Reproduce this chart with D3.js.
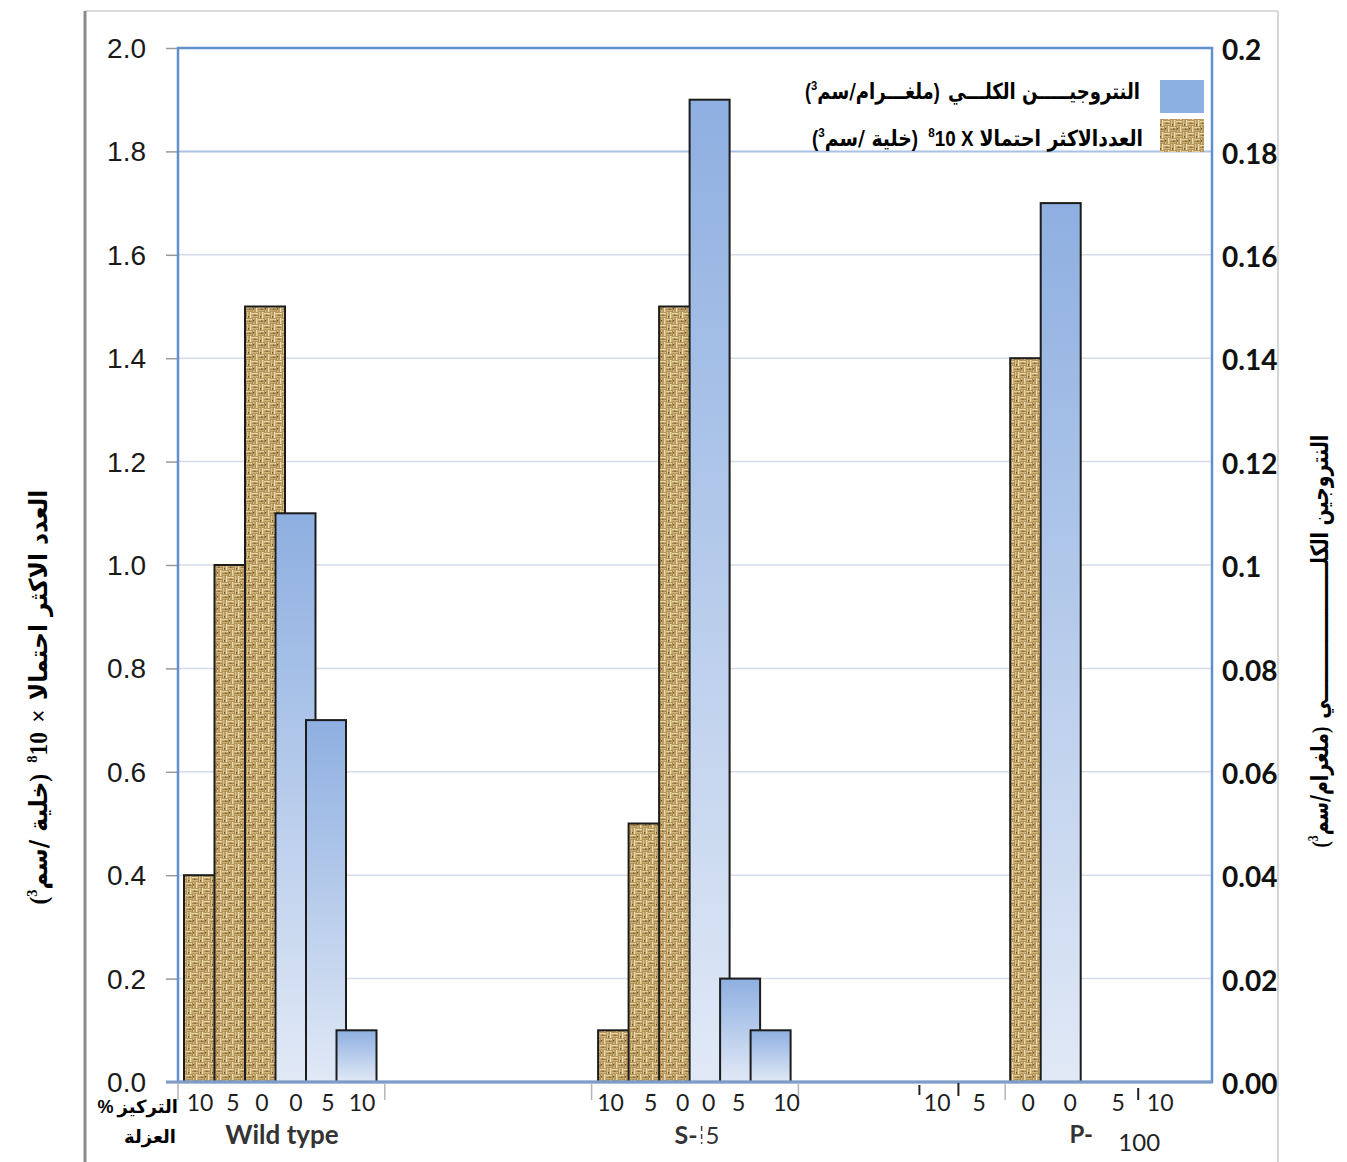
<!DOCTYPE html>
<html><head><meta charset="utf-8">
<script src="https://cdn.jsdelivr.net/npm/d3@7"></script>
<style>body{margin:0;background:#fff}</style>
</head><body><svg id="c" width="1347" height="1162"></svg>
<script>
// ---------------- data ----------------
const groups = ["Wild type", "S-5", "P-100"];
const concentrations = ["10", "5", "0", "0", "5", "10"];
const mpnWildType = [0.4, 1.0, 1.5];       // MPN x10^8 (cell/cm3), conc 10,5,0
const mpnS5 = [0.1, 0.5, 1.5];
const mpnP100 = [1.4];                      // conc 0 only
const nitrogenWildType = [0.11, 0.07, 0.01]; // total N (mg/cm3), conc 0,5,10
const nitrogenS5 = [0.19, 0.02, 0.01];
const nitrogenP100 = [0.17];                // conc 0 only
const leftTickLabels = ["0.0","0.2","0.4","0.6","0.8","1.0","1.2","1.4","1.6","1.8","2.0"];
const rightTickLabels = ["0.00","0.02","0.04","0.06","0.08","0.1","0.12","0.14","0.16","0.18","0.2"];

// ---------------- layout ----------------
const W = 1347, H = 1162;
const P = {l: 178, r: 1212, t: 48, b: 1082};
const AR = "'DejaVu Sans', 'Noto Sans', sans-serif";
const SERIF = "'Liberation Serif', 'DejaVu Serif', serif";
const SANS = "'Liberation Sans', Arial, sans-serif";
const svg = d3.select("#c");
const defs = svg.append("defs");

const yL = d3.scaleLinear().domain([0, 2]).range([P.b, P.t]);
const yR = d3.scaleLinear().domain([0, 0.2]).range([P.b, P.t]);
const xBand = d3.scaleBand().domain(["Wild type", "_a", "S-5", "_b", "P-100"]).range([P.l, P.r]);

const step = 30.5, barW = 40;
const groupOffset = {"Wild type": 6, "S-5": 6.5, "P-100": -56};
const slotX = (g, i) => xBand(g) + groupOffset[g] + i * step;

// gradient & pattern
const grad = defs.append("linearGradient").attr("id", "blueGrad").attr("x1", 0).attr("y1", 0).attr("x2", 0).attr("y2", 1);
grad.append("stop").attr("offset", "0%").attr("stop-color", "#8eafe1");
grad.append("stop").attr("offset", "100%").attr("stop-color", "#e1e9f6");

const pat = defs.append("pattern").attr("id", "burlap").attr("patternUnits", "userSpaceOnUse")
  .attr("width", 12).attr("height", 12);
pat.append("rect").attr("width", 12).attr("height", 12).attr("fill", "#8f6e3a");
[[0,0.6,6,2,"#ecd8a0"],[0,3.6,6,2,"#d3b678"],[6.6,0,2,6,"#dcc489"],[9.6,0,2,6,"#f0dfad"],
 [0.6,6,2,6,"#d5b97c"],[3.6,6,2,6,"#efdcaa"],[6,6.6,6,2,"#e6d098"],[6,9.6,6,2,"#cbad70"],
 [2,2.6,1.5,1,"#6f5026"],[8,4,1,1.5,"#6f5026"],[1,8,1,1.5,"#6f5026"],[9,8.6,1.5,1,"#6f5026"]]
 .forEach(r => pat.append("rect").attr("x", r[0]).attr("y", r[1]).attr("width", r[2]).attr("height", r[3]).attr("fill", r[4]));

// outer frame lines
svg.append("line").attr("x1", 85).attr("x2", 1278).attr("y1", 11).attr("y2", 11).attr("stroke", "#dadada").attr("stroke-width", 2);
svg.append("line").attr("x1", 1278).attr("x2", 1278).attr("y1", 11).attr("y2", H).attr("stroke", "#d6d6d6").attr("stroke-width", 2);
svg.append("line").attr("x1", 85).attr("x2", 85).attr("y1", 11).attr("y2", H).attr("stroke", "#8a8a8a").attr("stroke-width", 3);

// gridlines
const gridVals = d3.range(1, 10).map(i => i * 0.2);
svg.append("g").selectAll("line").data(gridVals).join("line")
  .attr("x1", P.l).attr("x2", P.r).attr("y1", d => yL(d)).attr("y2", d => yL(d))
  .attr("stroke", (d, i) => i === 8 ? "#a9c1e4" : "#d6dce7").attr("stroke-width", (d, i) => i === 8 ? 2 : 1.5);

// left axis
const leftVals = d3.range(0, 11).map(i => i * 0.2);
const axL = svg.append("g").attr("transform", `translate(${P.l},0)`)
  .call(d3.axisLeft(yL).tickValues(leftVals).tickFormat((d, i) => leftTickLabels[i]).tickSize(12).tickPadding(20));
axL.select(".domain").remove();
axL.selectAll(".tick line").attr("stroke", "#9a9a9a").attr("stroke-width", 1.5);
axL.selectAll(".tick text").attr("font-family", SANS).attr("font-size", 28).attr("fill", "#1a1a1a").attr("dy", "0.34em");

// right axis
const rightVals = d3.range(0, 11).map(i => i * 0.02);
const axR = svg.append("g").attr("transform", `translate(${P.r},0)`)
  .call(d3.axisRight(yR).tickValues(rightVals).tickFormat((d, i) => rightTickLabels[i]).tickSize(0).tickPadding(10));
axR.select(".domain").remove();
axR.selectAll(".tick text").attr("font-family", "Lato, sans-serif").attr("font-weight", "bold").attr("font-size", 28).attr("fill", "#111").attr("dy", "0.42em");

// bars
const mpnSeries = [mpnWildType, mpnS5, mpnP100];
const nSeries = [nitrogenWildType, nitrogenS5, nitrogenP100];
const bars = [];
groups.forEach((g, gi) => {
  const m = mpnSeries[gi];
  m.forEach((v, j) => bars.push({g, i: 3 - m.length + j, v, type: "mpn"}));
  nSeries[gi].forEach((v, j) => bars.push({g, i: 3 + j, v, type: "n"}));
});
const barG = svg.append("g");
groups.forEach(g => {
  barG.selectAll(null).data(bars.filter(b => b.g === g)).join("rect")
    .attr("x", d => slotX(d.g, d.i))
    .attr("y", d => d.type === "mpn" ? yL(d.v) : yR(d.v))
    .attr("width", barW)
    .attr("height", d => P.b - (d.type === "mpn" ? yL(d.v) : yR(d.v)))
    .attr("fill", d => d.type === "mpn" ? "url(#burlap)" : "url(#blueGrad)")
    .attr("stroke", "#1c1c1c").attr("stroke-width", 2);
});

// plot frame
svg.append("rect").attr("x", P.l).attr("y", P.t).attr("width", P.r - P.l).attr("height", P.b - P.t)
  .attr("fill", "none").attr("stroke", "#6190cf").attr("stroke-width", 2.5);
svg.append("line").attr("x1", 166).attr("x2", P.r).attr("y1", P.b).attr("y2", P.b).attr("stroke", "#7f9cc6").attr("stroke-width", 3);

// bottom category boundary ticks
const bounds = xBand.domain().map(d => xBand(d));
svg.append("g").selectAll("line").data(bounds).join("line")
  .attr("x1", d => d).attr("x2", d => d).attr("y1", P.b + 2).attr("y2", P.b + 18)
  .attr("stroke", "#b5b5b5").attr("stroke-width", 1.5);
// stray dark ticks
[[xBand("_b") + 121, 1085, 1095], [xBand("_b") + 160, 1083, 1096], [xBand("P-100") + 133, 1088, 1100]].forEach(t =>
  svg.append("line").attr("x1", t[0]).attr("x2", t[0]).attr("y1", t[1]).attr("y2", t[2]).attr("stroke", "#222").attr("stroke-width", 2));

// concentration tick labels
const labelOffsets = {"Wild type": [22, 55, 84, 118, 150, 184], "S-5": [19, 59, 91, 117, 147, 195], "P-100": [-68, -26, 23, 65, 113, 155]};
groups.forEach(g => {
  svg.append("g").selectAll("text").data(concentrations).join("text")
    .attr("x", (d, i) => xBand(g) + labelOffsets[g][i]).attr("y", 1111)
    .attr("text-anchor", "middle").attr("font-family", "Lato, sans-serif").attr("font-size", 23).attr("fill", "#1e1e1e")
    .text(d => d);
});

// group labels
svg.append("text").attr("x", xBand("Wild type") + 104).attr("y", 1144).attr("text-anchor", "middle")
  .attr("font-family", "Lato, sans-serif").attr("font-weight", "bold").attr("font-size", 26).attr("fill", "#333").text(groups[0]);
svg.append("text").attr("x", xBand("S-5") + 106).attr("y", 1144).attr("text-anchor", "end")
  .attr("font-family", "Lato, sans-serif").attr("font-weight", "bold").attr("font-size", 25).attr("fill", "#333").text("S-");
svg.append("line").attr("x1", xBand("S-5") + 110).attr("x2", xBand("S-5") + 110).attr("y1", 1126).attr("y2", 1144)
  .attr("stroke", "#444").attr("stroke-width", 1.5).attr("stroke-dasharray", "5,3");
svg.append("text").attr("x", xBand("S-5") + 114).attr("y", 1144).attr("text-anchor", "start")
  .attr("font-family", "Lato, sans-serif").attr("font-size", 24).attr("fill", "#333").text("5");
svg.append("text").attr("x", xBand("P-100") + 76).attr("y", 1143).attr("text-anchor", "middle")
  .attr("font-family", "Lato, sans-serif").attr("font-weight", "bold").attr("font-size", 24).attr("fill", "#333").text("P-");
svg.append("text").attr("x", xBand("P-100") + 134).attr("y", 1151).attr("text-anchor", "middle")
  .attr("font-family", "Lato, sans-serif").attr("font-size", 24).attr("fill", "#222").text("100");

// rich text helper: pieces in visual left-to-right order
function rich(pieces, o) {
  const g = svg.append("g");
  const inner = g.append("g");
  let cx = 0;
  const size = o.size;
  pieces.forEach(p => {
    const fs = p.sup ? size * 0.62 : size;
    const t = inner.append("text").attr("x", cx).attr("y", p.sup ? -size * 0.4 : 0)
      .attr("font-family", p.ar ? AR : (p.serif ? SERIF : SANS)).attr("font-weight", "bold")
      .attr("font-size", fs).attr("fill", "#000")
      .text(p.ar ? "\u202B" + p.t + "\u202C" : p.t);
    cx += t.node().getComputedTextLength() + (p.gap || 0);
  });
  const sx = o.width ? o.width / cx : 1;
  const x0 = o.anchor === "end" ? -cx * sx : o.anchor === "middle" ? -cx * sx / 2 : 0;
  inner.attr("transform", `translate(${x0},0) scale(${sx},1)`);
  g.attr("transform", `translate(${o.x},${o.y}) rotate(${o.rotate || 0})`);
  return g;
}

// legend
svg.append("rect").attr("x", 1160).attr("y", 80).attr("width", 44).attr("height", 33).attr("fill", "#8db0e2");
svg.append("rect").attr("x", 1160).attr("y", 119).attr("width", 44).attr("height", 33).attr("fill", "url(#burlap)");
rich([
  {t: "("}, {t: "3", sup: true}, {ar: true, t: "ملغـــرام/سم", gap: 0}, {t: ")", gap: 10},
  {ar: true, t: "النتروجيـــــن الكلـــي"}
], {x: 1140, y: 99, size: 22, anchor: "end", width: 335});
rich([
  {t: "("}, {t: "3", sup: true}, {ar: true, t: "خلية /سم"}, {t: ")", gap: 12},
  {t: "8", sup: true}, {t: "10 X", gap: 7}, {ar: true, t: "العددالاكثر احتمالا"}
], {x: 1143, y: 146, size: 22, anchor: "end", width: 331});

// axis titles
rich([
  {t: "(", serif: true}, {t: "3", sup: true, serif: true}, {ar: true, t: "خلية /سم"}, {t: ")", serif: true, gap: 12},
  {t: "8", sup: true, serif: true}, {t: "10", serif: true, gap: 10}, {t: "×", serif: true, gap: 10},
  {ar: true, t: "العدد الاكثر احتمالا"}
], {x: 47, y: 697, size: 25, anchor: "middle", width: 415, rotate: -90});
rich([
  {t: "(", serif: true}, {t: "3", sup: true, serif: true}, {ar: true, t: "ملغرام/سم"}, {t: ")", serif: true, gap: 10},
  {ar: true, t: "النتروجين الكلـــــــــــــــــــــي"}
], {x: 1328, y: 641, size: 24, anchor: "middle", width: 413, rotate: -90});

// bottom-left Arabic labels
rich([{t: "%", gap: 4}, {ar: true, t: "التركيز"}], {x: 178, y: 1113, size: 18, anchor: "end"});
svg.append("text").attr("x", 150).attr("y", 1143).attr("text-anchor", "middle")
  .attr("font-family", AR).attr("font-weight", "bold").attr("font-size", 18).attr("fill", "#000").text("العزلة");
</script></body></html>
